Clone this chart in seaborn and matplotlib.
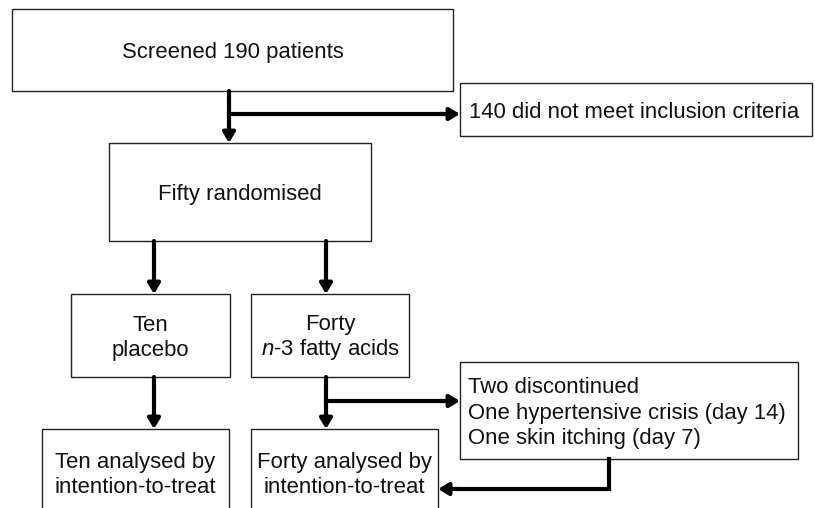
import matplotlib
matplotlib.use("Agg")
import seaborn as sns
from matplotlib import pyplot as plt
from matplotlib.patches import Rectangle

# Text content of the flow diagram
screened = "Screened 190 patients"
excluded = "140 did not meet inclusion criteria"
randomised = "Fifty randomised"
arm_placebo = "Ten\nplacebo"
arm_omega = "Forty\n$\\mathit{n}$-3 fatty acids"
drop_out = "Two discontinued\nOne hypertensive crisis (day 14)\nOne skin itching (day 7)"
itt_placebo = "Ten analysed by\nintention-to-treat"
itt_omega = "Forty analysed by\nintention-to-treat"

sns.set_style("white")
plt.rcParams['font.family'] = ['Liberation Sans', 'DejaVu Sans']
plt.rcParams['mathtext.fontset'] = 'custom'
plt.rcParams['mathtext.rm'] = 'Liberation Sans'
plt.rcParams['mathtext.it'] = 'Liberation Sans:italic'

fig = plt.figure(figsize=(8.15, 5.08), dpi=100)
ax = fig.add_axes([0, 0, 1, 1])
ax.set_xlim(0, 815)
ax.set_ylim(508, 0)
ax.axis('off')

FS = 15.9
LSP = 1.3
LW = 3.0
DY = 2.5  # nudge text down so capitals sit centred like the original
edge = '#222222'


def box(x0, y0, x1, y1, text, align='center', tx=None, lsp=LSP):
    ax.add_patch(Rectangle((x0, y0), x1 - x0, y1 - y0, fill=False,
                           edgecolor=edge, lw=1.0))
    cy = (y0 + y1) / 2 + DY
    if align == 'center':
        ax.text((x0 + x1) / 2, cy, text, ha='center', va='center',
                fontsize=FS, linespacing=lsp, multialignment='center',
                color='#111111')
    else:
        ax.text(tx, cy, text, ha='left', va='center', fontsize=FS,
                linespacing=lsp, multialignment='left', color='#111111')


def line(xs, ys):
    ax.plot(xs, ys, color='black', lw=LW, solid_capstyle='projecting')


def arrow(x0, y0, x1, y1):
    ax.annotate('', xy=(x1, y1), xytext=(x0, y0),
                arrowprops=dict(arrowstyle='-|>,head_length=0.5,head_width=0.3',
                                color='black', lw=LW, shrinkA=0, shrinkB=0,
                                mutation_scale=12))


box(12, 9, 453, 91, screened)
box(460, 83, 812, 136, excluded, align='left', tx=469)
box(109, 143, 371, 241, randomised)
box(71, 294, 230, 377, arm_placebo)
box(251, 294, 409, 377, arm_omega, lsp=1.13)
box(460, 362, 798, 459, drop_out, align='left', tx=468)
box(42, 429, 229, 516, itt_placebo)
box(251, 429, 438, 516, itt_omega)

# screened -> randomised, with exclusion branch
arrow(229, 91, 229, 143)
line([229, 440], [114, 114])
arrow(440, 114, 460, 114)

# randomised -> arms
arrow(154, 241, 154, 294)
arrow(326, 241, 326, 294)

# arms -> analysed
arrow(154, 377, 154, 429)
arrow(326, 377, 326, 429)

# drop-out branch and return
line([326, 440], [401, 401])
arrow(440, 401, 460, 401)
line([609, 609], [459, 489])
line([609, 458], [489, 489])
arrow(458, 489, 438, 489)

fig.savefig('out.png', dpi=100)
